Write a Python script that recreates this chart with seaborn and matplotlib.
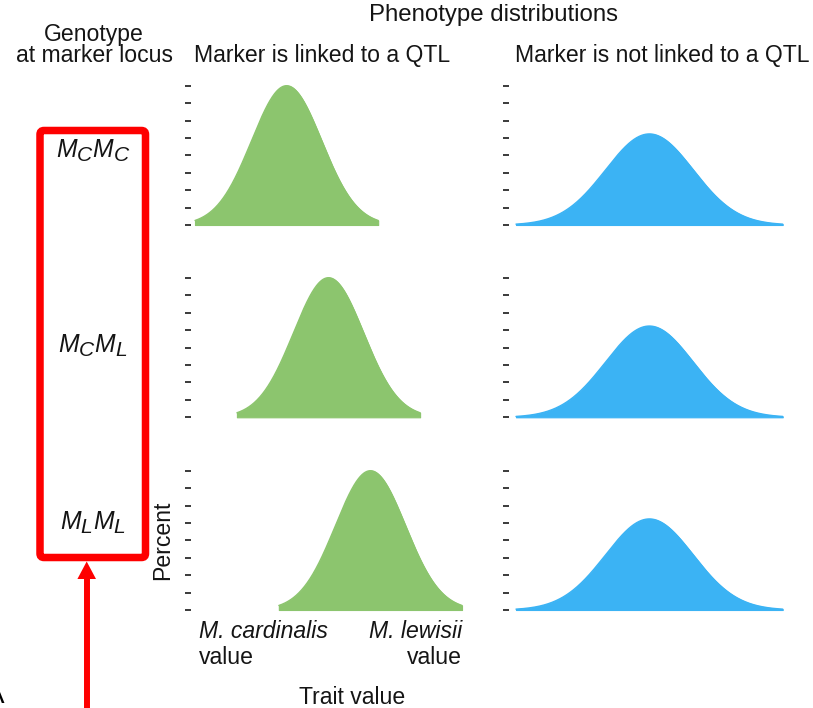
import numpy as np
import pandas as pd
import matplotlib
matplotlib.use("Agg")
import matplotlib.pyplot as plt
import matplotlib._mathtext as _mathtext
from matplotlib.patches import FancyBboxPatch, Polygon
import seaborn as sns

# ---- data -------------------------------------------------------------
genotypes = [r"$M_CM_C$", r"$M_CM_L$", r"$M_LM_L$"]
column_titles = ["Marker is linked to a QTL", "Marker is not linked to a QTL"]

# linked marker: distribution shifts with genotype
linked_means = [3.43, 5.0, 6.57]
linked_sd = 1.31
linked_halfwidth = 3.43
linked_peak = 8.0

# unlinked marker: same distribution for every genotype
unlinked_means = [5.0, 5.0, 5.0]
unlinked_sd = 1.64
unlinked_halfwidth = 5.0
unlinked_peak = 5.23

percent_ticks = list(range(9))
GREEN = "#8cc56e"
BLUE = "#3bb3f4"
RED = "#fe0000"

# ---- style ------------------------------------------------------------
sns.set_theme(style="white")
plt.rcParams["font.family"] = ["Liberation Sans", "DejaVu Sans"]
plt.rcParams["mathtext.fontset"] = "custom"
plt.rcParams["mathtext.rm"] = "Liberation Sans"
plt.rcParams["mathtext.it"] = "Liberation Sans:italic"
plt.rcParams["mathtext.bf"] = "Liberation Sans:bold"
_mathtext.SHRINK_FACTOR = 0.85  # larger subscripts

W, H = 813, 708
fig = plt.figure(figsize=(W / 100, H / 100), dpi=100)
fig.patch.set_facecolor("white")


def curve(mean, sd, halfwidth, peak):
    x = np.linspace(mean - halfwidth, mean + halfwidth, 401)
    y = peak * np.exp(-0.5 * ((x - mean) / sd) ** 2)
    return pd.DataFrame({"trait": x, "percent": y})


# panel geometry in pixels: (left, right, xmin, xmax) per column, (baseline, top) per row
col_px = [(191, 463, -0.15, 10.037), (509, 783, -0.262, 10.011)]
row_px = [(225.0, 85.7), (417.3, 277.7), (610.0, 470.7)]

series = [
    (linked_means, linked_sd, linked_halfwidth, linked_peak, GREEN),
    (unlinked_means, unlinked_sd, unlinked_halfwidth, unlinked_peak, BLUE),
]

for c, (x0, x1, lo, hi) in enumerate(col_px):
    means, sd, hw, peak, color = series[c]
    for r, (yb, yt) in enumerate(row_px):
        ax = fig.add_axes([x0 / W, 1 - yb / H, (x1 - x0) / W, (yb - yt) / H])
        ax.set_facecolor("none")
        df = curve(means[r], sd, hw, peak)
        ax.fill_between(df["trait"], 0, df["percent"], facecolor=color,
                        edgecolor=color, lw=0.8, clip_on=False)
        sns.lineplot(data=df, x="trait", y="percent", ax=ax, color=color,
                     lw=1.0, clip_on=False)
        ax.set_xlim(lo, hi)
        ax.set_ylim(0, 8)
        ax.set_xticks([])
        ax.set_yticks(percent_ticks)
        ax.set_yticklabels([])
        ax.set_xlabel("")
        ax.set_ylabel("")
        for s in ax.spines.values():
            s.set_visible(False)
        ax.tick_params(axis="y", left=True, length=4.3, width=1.4,
                       color="#3a3a3a", direction="out")

# ---- overlay for text and annotation shapes (pixel coordinates) -------
ov = fig.add_axes([0, 0, 1, 1], zorder=5)
ov.set_xlim(0, W)
ov.set_ylim(H, 0)
ov.axis("off")
ov.patch.set_alpha(0)

fs = 16.6
tc = "#151515"
ov.text(493, 21, "Phenotype distributions", ha="center", va="baseline",
        fontsize=17.3, color=tc)
ov.text(94, 41, "Genotype", ha="center", va="baseline", fontsize=fs, color=tc)
ov.text(94, 62, "at marker locus", ha="center", va="baseline", fontsize=fs,
        color=tc)
ov.text(322, 62, column_titles[0], ha="center", va="baseline", fontsize=fs,
        color=tc)
ov.text(662, 62, column_titles[1], ha="center", va="baseline", fontsize=fs,
        color=tc)

for label, yb in zip(genotypes, [158, 353, 530]):
    ov.text(93, yb, label, ha="center", va="baseline", fontsize=17.8, color=tc)

ov.text(169, 540, "Percent", ha="center", va="baseline", rotation=90,
        rotation_mode="anchor", fontsize=fs, color=tc)
ov.text(199, 638, "M. cardinalis", ha="left", va="baseline", fontsize=fs,
        style="italic", color=tc)
ov.text(199, 664, "value", ha="left", va="baseline", fontsize=fs, color=tc)
ov.text(462, 638, "M. lewisii", ha="right", va="baseline", fontsize=fs,
        style="italic", color=tc)
ov.text(462, 664, "value", ha="right", va="baseline", fontsize=fs, color=tc)
ov.text(352, 704, "Trait value", ha="center", va="baseline", fontsize=fs,
        color=tc)
ov.text(4, 703, "A", ha="right", va="baseline", fontsize=20, color="black")

# red frame around genotype labels
ov.add_patch(FancyBboxPatch((40, 130.5), 105.5, 427,
                            boxstyle="round,pad=0,rounding_size=4",
                            fill=False, ec=RED, lw=5.4))
# red arrow pointing up at the frame
ov.plot([86.7, 86.7], [578, 712], color=RED, lw=4.3, solid_capstyle="butt")
ov.add_patch(Polygon([(86.7, 561.5), (77.4, 579), (96.0, 579)],
                     closed=True, fc=RED, ec="none"))

fig.savefig("out.png", dpi=100, facecolor="white")
